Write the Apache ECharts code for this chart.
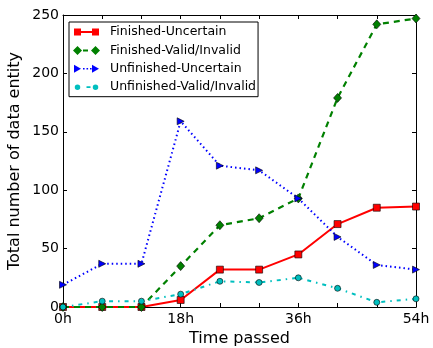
<!DOCTYPE html>
<html><head><meta charset="utf-8">
<script src="https://cdn.jsdelivr.net/npm/echarts@6/dist/echarts.min.js"></script>
<style>html,body{margin:0;padding:0;background:#fff}#c{width:433px;height:348px}</style>
</head><body><div id="c"></div>
<script>
const times = [0, 6, 12, 18, 24, 30, 36, 42, 48, 54];
const finishedUncertain = [0, 0, 0, 6, 32, 32, 45, 71, 85, 86];
const finishedValid = [0, 0, 0, 35, 70, 76, 93, 179, 242, 247];
const unfinishedUncertain = [19, 37, 37, 159, 121, 117, 93, 60, 36, 32];
const unfinishedValid = [0, 5, 5, 11, 22, 21, 25, 16, 4, 7];
const seriesNames = ['Finished-Uncertain', 'Finished-Valid/Invalid', 'Unfinished-Uncertain', 'Unfinished-Valid/Invalid'];
const xLabelTicks = [0, 18, 36, 54];

const font = 'DejaVu Sans';
const chart = echarts.init(document.getElementById('c'));
const pairs = arr => times.map((t, i) => [t, arr[i]]);

// legend handles: marker - line style - marker (matplotlib-like)
const pad = 'M0,4.5h0.01v0.01h-0.01z M31.99,4.5h0.01v0.01h-0.01z ';
const legendIcons = [
  'path://' + pad + 'M1,1h7v7h-7z M19,1h7v7h-7z M8,3.5h11v2h-11z',
  'path://' + pad + 'M4.5,0L9,4.5L4.5,9L0,4.5z M22.5,0L27,4.5L22.5,9L18,4.5z M10,3.5h5v2h-5z',
  'path://' + pad + 'M1,0.5L8,4.5L1,8.5z M19,0.5L26,4.5L19,8.5z M10,3.7h1.6v1.6h-1.6z M13.5,3.7h1.6v1.6h-1.6z M17,3.7h1.6v1.6h-1.6z',
  'path://' + pad + 'M1.75,4.5a2.75,2.75 0 1,0 5.5,0a2.75,2.75 0 1,0 -5.5,0z M19.75,4.5a2.75,2.75 0 1,0 5.5,0a2.75,2.75 0 1,0 -5.5,0z M13.5,3.6h4v1.8h-4z'
];

const axisCommon = {
  axisLine: { show: true, onZero: false, lineStyle: { color: '#000', width: 1 } },
  axisTick: { show: true, inside: true, length: 4, lineStyle: { color: '#000', width: 1 } },
  splitLine: { show: false }
};
const edge = { borderColor: '#000', borderWidth: 0.6 };
chart.setOption({
  animation: false,
  textStyle: { fontFamily: font },
  grid: { left: 63, right: 17, top: 15, bottom: 41, containLabel: false, outerBoundsMode: 'none' },
  xAxis: [
    Object.assign({}, axisCommon, {
      type: 'value', min: 0, max: 54, interval: 6, position: 'bottom',
      name: 'Time passed', nameLocation: 'middle', nameGap: 23.5, nameMoveOverlap: false,
      nameTextStyle: { fontSize: 16, color: '#000', fontFamily: font },
      axisLabel: { show: true, margin: 5, fontSize: 14, color: '#000', fontFamily: font,
        formatter: v => xLabelTicks.includes(v) ? v + 'h' : '' }
    }),
    Object.assign({}, axisCommon, {
      type: 'value', min: 0, max: 54, interval: 6, position: 'top', axisLabel: { show: false }
    })
  ],
  yAxis: [
    Object.assign({}, axisCommon, {
      type: 'value', min: 0, max: 250, interval: 50, position: 'left',
      name: 'Total number of data entity', nameLocation: 'middle', nameGap: 40, nameMoveOverlap: false,
      nameTextStyle: { fontSize: 16, color: '#000', fontFamily: font },
      axisLabel: { show: true, margin: 4, fontSize: 14, color: '#000', fontFamily: font }
    }),
    Object.assign({}, axisCommon, {
      type: 'value', min: 0, max: 250, interval: 50, position: 'right', axisLabel: { show: false }
    })
  ],
  legend: {
    orient: 'vertical', left: 69, top: 22,
    backgroundColor: '#fff', borderColor: '#000', borderWidth: 1, borderRadius: 0,
    padding: [3.5, 2, 3, 4], itemGap: 5.4, itemWidth: 32, itemHeight: 13,
    symbolKeepAspect: true,
    itemStyle: { borderWidth: 0 },
    textStyle: { fontSize: 12.5, lineHeight: 13, color: '#000', fontFamily: font },
    data: seriesNames.map((n, i) => ({ name: n, icon: legendIcons[i] }))
  },
  series: [
    { name: seriesNames[0], type: 'line', data: pairs(finishedUncertain),
      symbol: 'rect', symbolSize: 7, color: '#ff0000',
      lineStyle: { color: '#ff0000', width: 2, type: 'solid' },
      itemStyle: Object.assign({ color: '#ff0000' }, edge) },
    { name: seriesNames[1], type: 'line', data: pairs(finishedValid),
      symbol: 'diamond', symbolSize: [8, 9], color: '#008000',
      lineStyle: { color: '#008000', width: 2.2, type: [6, 5] },
      itemStyle: Object.assign({ color: '#008000' }, edge) },
    { name: seriesNames[2], type: 'line', data: pairs(unfinishedUncertain),
      symbol: 'triangle', symbolRotate: -90, symbolSize: 7, color: '#0000ff',
      lineStyle: { color: '#0000ff', width: 2, type: [1.5, 3] },
      itemStyle: Object.assign({ color: '#0000ff' }, edge) },
    { name: seriesNames[3], type: 'line', data: pairs(unfinishedValid),
      symbol: 'circle', symbolSize: 6, color: '#00bfbf',
      lineStyle: { color: '#00bfbf', width: 2, type: [4, 5, 1.5, 5] },
      itemStyle: Object.assign({ color: '#00bfbf' }, edge) }
  ]
});
</script></body></html>
